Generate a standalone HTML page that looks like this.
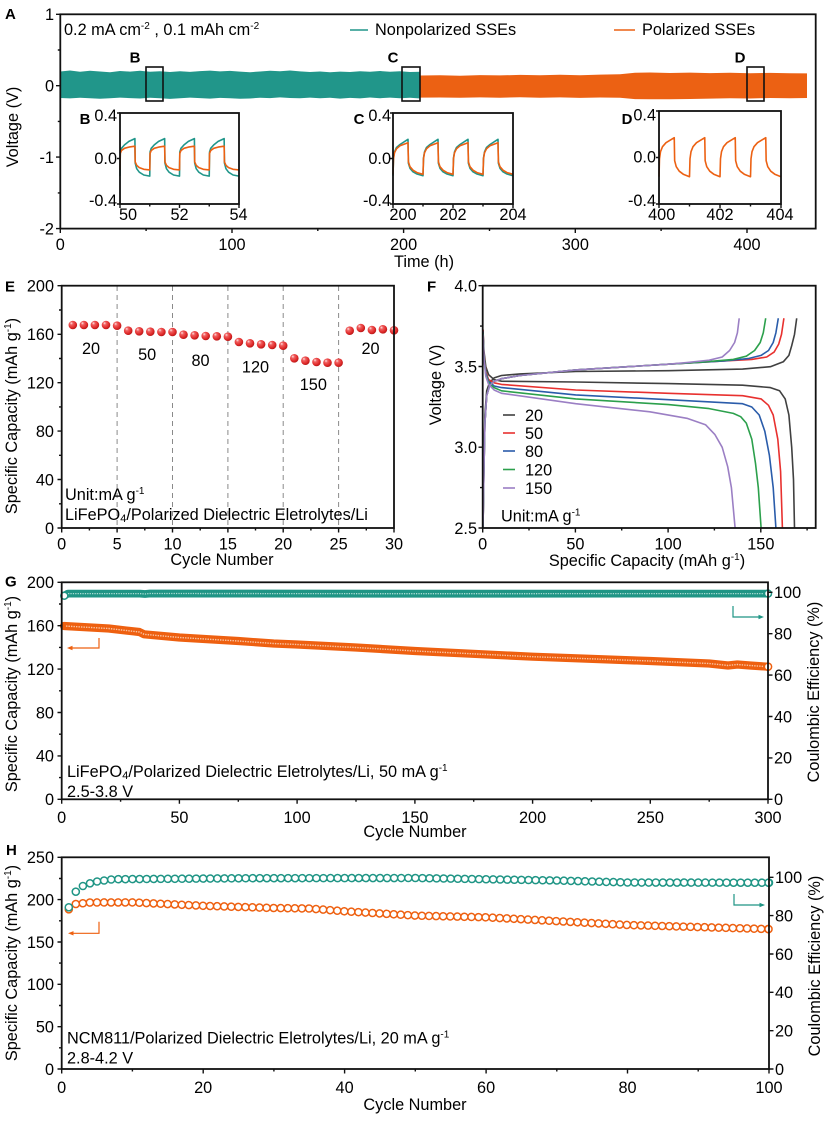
<!DOCTYPE html>
<html><head><meta charset="utf-8"><style>
html,body{margin:0;padding:0;background:#fff;}
svg{display:block;}
text{font-family:"Liberation Sans",Arial,sans-serif;font-size:16.3px;fill:#000;}
.b{font-weight:bold;font-size:15px;}
.m{text-anchor:middle;}
.e{text-anchor:end;}
</style></head><body>
<svg width="825" height="1124" viewBox="0 0 825 1124" xmlns="http://www.w3.org/2000/svg">
<defs>
<radialGradient id="rg" cx="0.4" cy="0.38" r="0.62" fx="0.32" fy="0.28"><stop offset="0" stop-color="#ffe8e8"/><stop offset="0.3" stop-color="#f06060"/><stop offset="0.75" stop-color="#e02a2a"/><stop offset="1" stop-color="#b81818"/></radialGradient>
</defs>
<rect width="825" height="1124" fill="#fff"/>

<!-- ===== Panel A ===== -->
<text class="b" x="5" y="19">A</text>
<polygon fill="#21968a" points="60.3,71.5 70,70.5 80,71.8 90,70.8 100,71.5 110,72.3 120,71 130,71.6 140,70.7 150,71.8 160,71.2 170,72 180,71.3 190,71.9 200,71.1 210,70.6 220,71.4 230,70.9 240,71.6 250,72.2 260,71.5 270,70.8 280,71.3 290,70.5 300,71.4 310,72 320,71.5 330,72.3 340,71.6 350,72 360,71.2 370,71.8 380,71 390,71.7 400,71.3 410,72 420.5,71.8 420.5,98.5 410,97.8 400,98.3 390,97.6 380,98.2 370,97.5 360,98.4 350,97.9 340,98.6 330,97.7 320,98.2 310,97.6 300,98.3 290,98 280,97.4 270,98.1 260,97.7 250,98.5 240,98.8 230,98.2 220,97.9 210,98.6 200,98.1 190,97.6 180,98.3 170,98.9 160,98.2 150,97.8 140,98.5 130,98.1 120,97.6 110,98.2 100,98.7 90,98.3 80,97.7 70,98.4 60.3,98"/>
<polygon fill="#ec6113" points="420.5,75.5 440,75.2 460,75.8 480,75.1 500,75.4 520,74.9 540,75.3 560,74.8 580,75.2 600,74.6 620,74.2 635,72.8 650,72.5 670,73 690,72.6 710,73.1 730,72.7 750,73.2 770,72.9 790,73.3 807,73.4 807,98 790,98.3 770,98 750,98.5 730,98.3 710,98.6 690,99 670,99.2 650,99.3 635,99.1 620,97.8 600,97.5 580,97.9 560,97.4 540,97.8 520,97.3 500,97.7 480,97.4 460,97.8 440,97.5 420.5,97.6"/>
<g fill="none" stroke="#111" stroke-width="1.6">
<rect x="146" y="67" width="17" height="34"/>
<rect x="402" y="67" width="18" height="34"/>
<rect x="747" y="67" width="17" height="34"/>
</g>
<text class="b m" x="135" y="62.5">B</text>
<text class="b m" x="393" y="62.5">C</text>
<text class="b m" x="740" y="62.5">D</text>

<text x="64" y="35">0.2 mA cm<tspan font-size="10" dy="-6">-2</tspan><tspan dy="6"> , 0.1 mAh cm</tspan><tspan font-size="10" dy="-6">-2</tspan></text>
<line x1="350" y1="30" x2="368" y2="30" stroke="#21968a" stroke-width="1.6"/>
<text x="375" y="35">Nonpolarized SSEs</text>
<line x1="614" y1="30" x2="635" y2="30" stroke="#ec6113" stroke-width="1.6"/>
<text x="642" y="35">Polarized SSEs</text>

<!-- inset B -->
<rect x="120" y="113" width="119" height="91" fill="#fff"/>
<path fill="none" stroke="#21968a" stroke-width="1.6" stroke-linejoin="round" d="M120,176.1 l0.3,-24.1 l1.2,-3.7 l3,-3.4 l4.4,-3.5 l6,-2.8 l0.3,24.5 l1.5,5.6 l2.6,3.5 l4.5,2.8 l5.95,1.1 l0.3,-24.1 l1.2,-3.7 l3,-3.4 l4.4,-3.5 l6,-2.8 l0.3,24.5 l1.5,5.6 l2.6,3.5 l4.5,2.8 l5.95,1.1 l0.3,-24.1 l1.2,-3.7 l3,-3.4 l4.4,-3.5 l6,-2.8 l0.3,24.5 l1.5,5.6 l2.6,3.5 l4.5,2.8 l5.95,1.1 l0.3,-24.1 l1.2,-3.7 l3,-3.4 l4.4,-3.5 l6,-2.8 l0.3,24.5 l1.5,5.6 l2.6,3.5 l4.5,2.8 l5.95,1.1"/>
<path fill="none" stroke="#ec6113" stroke-width="1.6" stroke-linejoin="round" d="M120,169.9 l0.3,-16.4 l1.2,-3 l3,-2.2 l4.4,-1.2 l6,-0.9 l0.3,15.7 l1.5,3.4 l2.6,2.3 l4.5,1.7 l5.95,0.6 l0.3,-16.4 l1.2,-3 l3,-2.2 l4.4,-1.2 l6,-0.9 l0.3,15.7 l1.5,3.4 l2.6,2.3 l4.5,1.7 l5.95,0.6 l0.3,-16.4 l1.2,-3 l3,-2.2 l4.4,-1.2 l6,-0.9 l0.3,15.7 l1.5,3.4 l2.6,2.3 l4.5,1.7 l5.95,0.6 l0.3,-16.4 l1.2,-3 l3,-2.2 l4.4,-1.2 l6,-0.9 l0.3,15.7 l1.5,3.4 l2.6,2.3 l4.5,1.7 l5.95,0.6"/>
<rect x="120" y="113" width="119" height="91" fill="none" stroke="#111" stroke-width="1.8"/>
<path stroke="#111" stroke-width="1.4" d="M117,113H120M117,158.5H120M117,204H120M120,204V208M179.5,204V208M239,204V208M149.75,204V206.5M209.25,204V206.5"/>
<text class="e" x="117" y="121">0.4</text>
<text class="e" x="117" y="164">0.0</text>
<text class="e" x="117" y="206">-0.4</text>
<text class="m" x="128" y="220">50</text>
<text class="m" x="179.5" y="220">52</text>
<text class="m" x="238.5" y="220">54</text>
<text class="b m" x="85" y="124">B</text>

<!-- inset C -->
<rect x="393" y="113" width="120" height="91" fill="#fff"/>
<path fill="none" stroke="#21968a" stroke-width="1.6" stroke-linejoin="round" d="M393,175.7 l0.5,-17.7 l1,-6 l2,-4.5 l3.5,-3 l8,-5.2 l0.4,24 l1.6,5 l3,3.5 l4,2.2 l6,1.7 l0.5,-17.7 l1,-6 l2,-4.5 l3.5,-3 l8,-5.2 l0.4,24 l1.6,5 l3,3.5 l4,2.2 l6,1.7 l0.5,-17.7 l1,-6 l2,-4.5 l3.5,-3 l8,-5.2 l0.4,24 l1.6,5 l3,3.5 l4,2.2 l6,1.7 l0.5,-17.7 l1,-6 l2,-4.5 l3.5,-3 l8,-5.2 l0.4,24 l1.6,5 l3,3.5 l4,2.2 l6,1.7"/>
<path fill="none" stroke="#ec6113" stroke-width="1.6" stroke-linejoin="round" d="M393,174.3 l0.5,-15.5 l1,-6 l2,-4 l3.5,-3 l8,-3.1 l0.4,19 l1.6,5 l3,3.5 l4,2.4 l6,1.7 l0.5,-15.5 l1,-6 l2,-4 l3.5,-3 l8,-3.1 l0.4,19 l1.6,5 l3,3.5 l4,2.4 l6,1.7 l0.5,-15.5 l1,-6 l2,-4 l3.5,-3 l8,-3.1 l0.4,19 l1.6,5 l3,3.5 l4,2.4 l6,1.7 l0.5,-15.5 l1,-6 l2,-4 l3.5,-3 l8,-3.1 l0.4,19 l1.6,5 l3,3.5 l4,2.4 l6,1.7"/>
<rect x="393" y="113" width="120" height="91" fill="none" stroke="#111" stroke-width="1.8"/>
<path stroke="#111" stroke-width="1.4" d="M390,113H393M390,158.5H393M390,204H393M393,204V208M453,204V208M513,204V208M423,204V206.5M483,204V206.5"/>
<text class="e" x="391" y="121">0.4</text>
<text class="e" x="391" y="164">0.0</text>
<text class="e" x="391" y="206">-0.4</text>
<text class="m" x="403" y="220">200</text>
<text class="m" x="453" y="220">202</text>
<text class="m" x="513" y="220">204</text>
<text class="b m" x="359" y="124">C</text>

<!-- inset D -->
<rect x="659" y="111" width="122" height="93" fill="#fff"/>
<path fill="none" stroke="#ec6113" stroke-width="1.6" stroke-linejoin="round" d="M659,176.7 l0.5,-18 l1,-7 l2,-5 l3.5,-4 l8.25,-5 l0.4,23 l1.6,6 l3,4.5 l4,3 l6.25,2.5 l0.5,-18 l1,-7 l2,-5 l3.5,-4 l8.25,-5 l0.4,23 l1.6,6 l3,4.5 l4,3 l6.25,2.5 l0.5,-18 l1,-7 l2,-5 l3.5,-4 l8.25,-5 l0.4,23 l1.6,6 l3,4.5 l4,3 l6.25,2.5 l0.5,-18 l1,-7 l2,-5 l3.5,-4 l8.25,-5 l0.4,23 l1.6,6 l3,4.5 l4,3 l6.25,2.5"/>
<rect x="659" y="111" width="122" height="93" fill="none" stroke="#111" stroke-width="1.8"/>
<path stroke="#111" stroke-width="1.4" d="M656,111H659M656,157.5H659M656,204H659M659,204V208M720,204V208M781,204V208M689.5,204V206.5M750.5,204V206.5"/>
<text class="e" x="656" y="120.5">0.4</text>
<text class="e" x="656" y="162.5">0.0</text>
<text class="e" x="656" y="206">-0.4</text>
<text class="m" x="661.7" y="220">400</text>
<text class="m" x="720" y="220">402</text>
<text class="m" x="780" y="220">404</text>
<text class="b m" x="627" y="124">D</text>

<!-- A axes -->
<rect x="60.3" y="14.3" width="755.4" height="214.3" fill="none" stroke="#111" stroke-width="1.8"/>
<path stroke="#111" stroke-width="1.4" d="M56,14.3H60.3M56,85.7H60.3M56,157.1H60.3M56,228.6H60.3M57.8,50H60.3M57.8,121.4H60.3M57.8,192.9H60.3M60.3,228.6V233M232,228.6V233M403.6,228.6V233M575.3,228.6V233M747,228.6V233M146.1,228.6V231M317.8,228.6V231M489.5,228.6V231M661.1,228.6V231"/>
<text class="e" x="54" y="20">1</text>
<text class="e" x="54" y="91.5">0</text>
<text class="e" x="54" y="163">-1</text>
<text class="e" x="54" y="234.5">-2</text>
<text class="m" x="60.3" y="250">0</text>
<text class="m" x="232" y="250">100</text>
<text class="m" x="403.6" y="250">200</text>
<text class="m" x="575.3" y="250">300</text>
<text class="m" x="747" y="250">400</text>
<text class="m" x="424" y="267">Time (h)</text>
<text class="m" transform="translate(18,127) rotate(-90)">Voltage (V)</text>

<!-- ===== Panel E ===== -->
<text class="b" x="5" y="291.7">E</text>
<path fill="none" stroke="#8a8a8a" stroke-width="1" stroke-dasharray="5 4" d="M117.1,286V528M172.5,286V528M227.9,286V528M283.2,286V528M338.6,286V528"/>
<g fill="url(#rg)">
<circle cx="72.8" cy="325" r="4.3"/><circle cx="83.9" cy="325" r="4.3"/><circle cx="94.9" cy="325" r="4.3"/><circle cx="106" cy="325" r="4.3"/><circle cx="117.1" cy="325.7" r="4.3"/>
<circle cx="128.2" cy="330.7" r="4.3"/><circle cx="139.2" cy="331.3" r="4.3"/><circle cx="150.3" cy="331.7" r="4.3"/><circle cx="161.4" cy="332" r="4.3"/><circle cx="172.5" cy="332" r="4.3"/>
<circle cx="183.5" cy="334.7" r="4.3"/><circle cx="194.6" cy="335.3" r="4.3"/><circle cx="205.7" cy="336" r="4.3"/><circle cx="216.8" cy="336.3" r="4.3"/><circle cx="227.9" cy="336.7" r="4.3"/>
<circle cx="238.9" cy="342" r="4.3"/><circle cx="250" cy="343.3" r="4.3"/><circle cx="261.1" cy="344.3" r="4.3"/><circle cx="272.2" cy="345" r="4.3"/><circle cx="283.2" cy="345.7" r="4.3"/>
<circle cx="294.3" cy="358.3" r="4.3"/><circle cx="305.4" cy="360.7" r="4.3"/><circle cx="316.5" cy="362" r="4.3"/><circle cx="327.5" cy="362.7" r="4.3"/><circle cx="338.6" cy="362.7" r="4.3"/>
<circle cx="349.7" cy="330.7" r="4.3"/><circle cx="360.8" cy="328" r="4.3"/><circle cx="371.9" cy="330" r="4.3"/><circle cx="382.9" cy="329.3" r="4.3"/><circle cx="394" cy="330.3" r="4.3"/>
</g>
<text class="m" x="91" y="354">20</text>
<text class="m" x="147.2" y="360">50</text>
<text class="m" x="200.5" y="366">80</text>
<text class="m" x="255.5" y="372.7">120</text>
<text class="m" x="313.3" y="390">150</text>
<text class="m" x="370.5" y="354">20</text>
<text x="65" y="500">Unit:mA g<tspan font-size="10" dy="-6">-1</tspan></text>
<text x="65" y="520">LiFePO<tspan font-size="11" dy="2">4</tspan><tspan dy="-2">/Polarized Dielectric Eletrolytes/Li</tspan></text>
<rect x="61.7" y="285.7" width="332.3" height="242.3" fill="none" stroke="#111" stroke-width="1.8"/>
<path stroke="#111" stroke-width="1.4" d="M57.5,528H61.7M57.5,479.5H61.7M57.5,431.1H61.7M57.5,382.7H61.7M57.5,334.3H61.7M57.5,285.7H61.7M59,503.8H61.7M59,455.3H61.7M59,406.9H61.7M59,358.5H61.7M59,310H61.7M61.7,528V532.5M117.1,528V532.5M172.5,528V532.5M227.9,528V532.5M283.2,528V532.5M338.6,528V532.5M394,528V532.5M89.4,528V530.5M144.8,528V530.5M200.2,528V530.5M255.5,528V530.5M310.9,528V530.5M366.3,528V530.5"/>
<text class="e" x="54" y="534">0</text>
<text class="e" x="54" y="485.5">40</text>
<text class="e" x="54" y="437">80</text>
<text class="e" x="54" y="388.5">120</text>
<text class="e" x="54" y="340">160</text>
<text class="e" x="54" y="291.5">200</text>
<text class="m" x="61.7" y="549.5">0</text>
<text class="m" x="117.1" y="549.5">5</text>
<text class="m" x="172.5" y="549.5">10</text>
<text class="m" x="227.9" y="549.5">15</text>
<text class="m" x="283.2" y="549.5">20</text>
<text class="m" x="338.6" y="549.5">25</text>
<text class="m" x="394" y="549.5">30</text>
<text class="m" x="222" y="565">Cycle Number</text>
<text class="m" transform="translate(17,416) rotate(-90)">Specific Capacity (mAh g<tspan font-size="10" dy="-6">-1</tspan><tspan dy="6">)</tspan></text>

<!-- ===== Panel F ===== -->
<text class="b" x="427" y="291.7">F</text>
<g fill="none" stroke-width="1.6" stroke-linejoin="round">
<path stroke="#404040" d="M483,329.6 L483.9,350.5 L485.8,366.7 L488.6,374.7 L494.1,379.6 L501.5,381.2 L575.7,382 L668.4,383.6 L742.6,385.2 L770.4,387.6 L779.6,390.8 L785.2,398.9 L788.9,415 L791.7,447.3 L793.5,479.6 L794.5,528"/>
<path stroke="#404040" d="M483,528 L483.9,463.4 L484.9,415 L486.7,390.8 L489.5,382.8 L494.1,377.9 L501.5,375.5 L520.1,373.9 L575.7,371.5 L668.4,370.7 L742.6,369.1 L770.4,366.7 L783.3,361.8 L788.9,355.4 L791.7,345.7 L794.5,334.4 L796.7,318.3"/>
<path stroke="#e8312f" d="M483,329.6 L483.9,353.7 L485.8,371.5 L488.6,379.6 L494.1,382.8 L501.5,384.4 L575.7,390 L668.4,393.3 L742.6,395.7 L761.1,398.9 L768.5,405.3 L773.2,415 L777.8,439.2 L780.6,471.5 L782.4,528"/>
<path stroke="#e8312f" d="M483,528 L483.9,471.5 L484.9,423.1 L486.7,395.7 L489.5,386 L494.1,381.2 L501.5,378.7 L520.1,375.5 L575.7,369.9 L668.4,364.2 L724,361 L751.8,359.4 L766.7,357 L774.1,352.1 L778.7,344.1 L781.5,334.4 L783.9,318.3"/>
<path stroke="#2a5caa" d="M483,331.2 L483.9,355.4 L485.8,373.1 L488.6,381.2 L494.1,386 L501.5,387.6 L575.7,394.9 L668.4,399.7 L742.6,403.7 L751.8,407 L759.2,415 L764.8,431.2 L769.4,455.4 L773.2,487.6 L775.9,528"/>
<path stroke="#2a5caa" d="M483,528 L483.9,471.5 L484.9,423.1 L486.7,395.7 L489.5,386 L494.1,381.2 L501.5,378.7 L520.1,375.5 L575.7,369.9 L668.4,364.2 L724,361 L748.1,358.6 L761.1,355.4 L768.5,350.5 L773.2,342.5 L775.9,332.8 L778.3,318.3"/>
<path stroke="#2ca04c" d="M483,332.8 L483.9,357 L485.8,374.7 L488.6,382.8 L494.1,387.6 L501.5,390.8 L575.7,398.9 L668.4,404.6 L709.2,408.6 L733.3,413.4 L740.7,416.7 L746.3,423.1 L751.8,439.2 L755.5,463.4 L758.3,487.6 L761.1,528"/>
<path stroke="#2ca04c" d="M483,528 L483.9,471.5 L484.9,423.1 L486.7,395.7 L489.5,386 L494.1,381.2 L501.5,378.7 L520.1,375.5 L575.7,369.9 L668.4,364.2 L705.5,361.8 L733.3,359.4 L746.3,356.2 L754.6,350.5 L760.2,342.5 L763.3,332.8 L765.7,318.3"/>
<path stroke="#9b7fc4" d="M483,334.4 L483.9,358.6 L485.8,376.3 L488.6,384.4 L494.1,390 L501.5,393.3 L575.7,403.7 L649.9,411.8 L686.9,418.3 L705.5,424.7 L714.8,434.4 L722.2,447.3 L727.7,466.7 L731.4,487.6 L735.1,528"/>
<path stroke="#9b7fc4" d="M483,528 L483.9,471.5 L484.9,423.1 L486.7,395.7 L489.5,386 L494.1,381.2 L501.5,378.7 L520.1,375.5 L575.7,369.9 L668.4,364.2 L686.9,362.6 L709.2,360.2 L722.2,357 L729.6,350.5 L734.6,342.5 L737.4,332.8 L739.2,318.3"/>
</g>
<g stroke-width="1.6">
<line x1="503" y1="415" x2="515" y2="415" stroke="#404040"/>
<line x1="503" y1="433" x2="515" y2="433" stroke="#e8312f"/>
<line x1="503" y1="451" x2="515" y2="451" stroke="#2a5caa"/>
<line x1="503" y1="469.5" x2="515" y2="469.5" stroke="#2ca04c"/>
<line x1="503" y1="488" x2="515" y2="488" stroke="#9b7fc4"/>
</g>
<text x="525" y="421">20</text>
<text x="525" y="439">50</text>
<text x="525" y="457">80</text>
<text x="525" y="475.5">120</text>
<text x="525" y="494">150</text>
<text x="501" y="521.5">Unit:mA g<tspan font-size="10" dy="-6">-1</tspan></text>
<rect x="482.7" y="285.7" width="333" height="242.3" fill="none" stroke="#111" stroke-width="1.8"/>
<path stroke="#111" stroke-width="1.4" d="M478.5,285.7H482.7M478.5,366.5H482.7M478.5,447.2H482.7M478.5,528H482.7M480,326.1H482.7M480,406.8H482.7M480,487.6H482.7M482.7,528V532.5M575.4,528V532.5M668.1,528V532.5M760.8,528V532.5M529,528V530.5M621.7,528V530.5M714.4,528V530.5M807.1,528V530.5"/>
<text class="e" x="477" y="291.5">4.0</text>
<text class="e" x="477" y="372.3">3.5</text>
<text class="e" x="477" y="453">3.0</text>
<text class="e" x="477" y="534">2.5</text>
<text class="m" x="482.7" y="549.5">0</text>
<text class="m" x="575.4" y="549.5">50</text>
<text class="m" x="668.1" y="549.5">100</text>
<text class="m" x="760.8" y="549.5">150</text>
<text class="m" x="647" y="566">Specific Capacity (mAh g<tspan font-size="10" dy="-6">-1</tspan><tspan dy="6">)</tspan></text>
<text class="m" transform="translate(441,385) rotate(-90)">Voltage (V)</text>

<!-- ===== Panel G ===== -->
<text class="b" x="5" y="586.7">G</text>
<path fill="none" stroke="#1f9585" stroke-width="7.8" stroke-linecap="round" stroke-linejoin="round" d="M64.5,595.5 L68,593.6 L140,593.6 L145,594 L150,593.5 L400,593.7 L768,593.6"/>
<path fill="none" stroke="#a9dcd3" stroke-width="1.3" stroke-dasharray="1.3 1.1" d="M68,593.6 L140,593.6 L145,594 L150,593.5 L400,593.7 L766,593.6"/>
<circle cx="64.3" cy="595.7" r="3.5" fill="#fff" stroke="#1f9585" stroke-width="1.5"/>
<path fill="none" stroke="#ee6010" stroke-width="8.2" stroke-linecap="round" stroke-linejoin="round" d="M64,626 L108.8,628.5 L139.4,632 L144.1,634.3 L179.4,637.5 L238.3,641 L273.6,643.5 L297.1,644.5 L356,647.5 L415,651 L532.6,656.7 L650.3,661 L709.2,663.5 L728,665.5 L737.4,664.5 L750,665.5 L768,666.7"/>
<path fill="none" stroke="#f9c4a4" stroke-width="1.4" stroke-dasharray="1.4 1.1" d="M66,626.1 L108.8,628.5 L139.4,632 L144.1,634.3 L179.4,637.5 L238.3,641 L273.6,643.5 L297.1,644.5 L356,647.5 L415,651 L532.6,656.7 L650.3,661 L709.2,663.5 L728,665.5 L737.4,664.5 L750,665.5 L765,666.5"/>
<circle cx="768" cy="666.7" r="3.6" fill="#fff" stroke="#ee6010" stroke-width="1.5"/>
<circle cx="768" cy="593.6" r="3.5" fill="#fff" stroke="#1f9585" stroke-width="1.5"/>
<path fill="none" stroke="#ee6010" stroke-width="1.2" d="M99,638V648H71"/>
<polygon fill="#ee6010" points="67,648 72.5,645.8 72.5,650.2"/>
<path fill="none" stroke="#1f9585" stroke-width="1.2" d="M733,606V617H759"/>
<polygon fill="#1f9585" points="764,617 758.5,614.8 758.5,619.2"/>
<text x="67" y="777">LiFePO<tspan font-size="11" dy="2">4</tspan><tspan dy="-2">/Polarized Dielectric Eletrolytes/Li, 50 mA g</tspan><tspan font-size="10" dy="-6">-1</tspan></text>
<text x="67" y="797">2.5-3.8 V</text>
<rect x="61.7" y="582.3" width="706.3" height="217" fill="none" stroke="#111" stroke-width="1.8"/>
<path stroke="#111" stroke-width="1.4" d="M57.5,799.3H61.7M57.5,755.9H61.7M57.5,712.5H61.7M57.5,669.1H61.7M57.5,625.7H61.7M57.5,582.3H61.7M59,777.6H61.7M59,734.2H61.7M59,690.8H61.7M59,647.4H61.7M59,604H61.7M61.7,799.3V803.8M179.4,799.3V803.8M297.1,799.3V803.8M414.9,799.3V803.8M532.6,799.3V803.8M650.3,799.3V803.8M768,799.3V803.8M120.6,799.3V801.8M238.3,799.3V801.8M356,799.3V801.8M473.7,799.3V801.8M591.4,799.3V801.8M709.2,799.3V801.8M768,799.3H772.5M768,757.9H772.5M768,716.5H772.5M768,675.1H772.5M768,633.7H772.5M768,592.3H772.5"/>
<text class="e" x="54" y="805">0</text>
<text class="e" x="54" y="761.7">40</text>
<text class="e" x="54" y="718.3">80</text>
<text class="e" x="54" y="674.9">120</text>
<text class="e" x="54" y="631.5">160</text>
<text class="e" x="54" y="588.1">200</text>
<text x="774" y="805">0</text>
<text x="774" y="763.7">20</text>
<text x="774" y="722.3">40</text>
<text x="774" y="680.9">60</text>
<text x="774" y="639.5">80</text>
<text x="774" y="598.1">100</text>
<text class="m" x="61.7" y="823">0</text>
<text class="m" x="179.4" y="823">50</text>
<text class="m" x="297.1" y="823">100</text>
<text class="m" x="414.9" y="823">150</text>
<text class="m" x="532.6" y="823">200</text>
<text class="m" x="650.3" y="823">250</text>
<text class="m" x="768" y="823">300</text>
<text class="m" x="415" y="837">Cycle Number</text>
<text class="m" transform="translate(17,694) rotate(-90)">Specific Capacity (mAh g<tspan font-size="10" dy="-6">-1</tspan><tspan dy="6">)</tspan></text>
<text class="m" transform="translate(819,692) rotate(-90)">Coulombic Efficiency (%)</text>

<!-- ===== Panel H ===== -->
<text class="b" x="6" y="855">H</text>
<path fill="none" stroke="#ee6010" stroke-width="8.6" stroke-linecap="round" stroke-dasharray="0.01 7.063" d="M75.8,904 L90,902.5 L132.4,902.4 L203.2,905.8 L273.9,908 L309.3,908.5 L344.6,911.3 L415.3,915.6 L486.1,917.3 L627.5,925 L769,929.1"/>
<path fill="none" stroke="#fff" stroke-width="5.6" stroke-linecap="round" stroke-dasharray="0.01 7.063" d="M75.8,904 L90,902.5 L132.4,902.4 L203.2,905.8 L273.9,908 L309.3,908.5 L344.6,911.3 L415.3,915.6 L486.1,917.3 L627.5,925 L769,929.1"/>
<circle cx="68.8" cy="909.3" r="3.55" fill="#fff" stroke="#ee6010" stroke-width="1.5"/>
<circle cx="768.5" cy="929.1" r="3.55" fill="#fff" stroke="#ee6010" stroke-width="1.5"/>
<path fill="none" stroke="#1f9585" stroke-width="8.6" stroke-linecap="round" stroke-dasharray="0.01 7.063" d="M118.3,879.2 L252.7,878.2 L415.3,878 L556.8,880.5 L627.5,882.5 L769,882.7"/>
<path fill="none" stroke="#fff" stroke-width="5.6" stroke-linecap="round" stroke-dasharray="0.01 7.063" d="M118.3,879.2 L252.7,878.2 L415.3,878 L556.8,880.5 L627.5,882.5 L769,882.7"/>
<g fill="#fff" stroke="#1f9585" stroke-width="1.5">
<circle cx="68.8" cy="907.3" r="3.55"/><circle cx="75.8" cy="891.7" r="3.55"/><circle cx="82.9" cy="886" r="3.55"/><circle cx="90" cy="883.3" r="3.55"/><circle cx="97.1" cy="881.5" r="3.55"/><circle cx="104.1" cy="880.5" r="3.55"/><circle cx="111.2" cy="879.5" r="3.55"/><circle cx="768.5" cy="882.7" r="3.55"/>
</g>
<path fill="none" stroke="#ee6010" stroke-width="1.2" d="M99,921.7V933.3H72"/>
<polygon fill="#ee6010" points="68,933.3 73.5,931.1 73.5,935.5"/>
<path fill="none" stroke="#1f9585" stroke-width="1.2" d="M734,894V905H760"/>
<polygon fill="#1f9585" points="765,905 759.5,902.8 759.5,907.2"/>
<text x="67" y="1043.5">NCM811/Polarized Dielectric Eletrolytes/Li, 20 mA g<tspan font-size="10" dy="-6">-1</tspan></text>
<text x="67" y="1063.5">2.8-4.2 V</text>
<rect x="61.7" y="857.3" width="707.3" height="211.7" fill="none" stroke="#111" stroke-width="1.8"/>
<path stroke="#111" stroke-width="1.4" d="M57.5,1069H61.7M57.5,1026.7H61.7M57.5,984.3H61.7M57.5,942H61.7M57.5,899.6H61.7M57.5,857.3H61.7M59,1047.8H61.7M59,1005.5H61.7M59,963.1H61.7M59,920.8H61.7M59,878.5H61.7M61.7,1069V1073.5M203.2,1069V1073.5M344.6,1069V1073.5M486.1,1069V1073.5M627.5,1069V1073.5M769,1069V1073.5M132.4,1069V1071.5M273.9,1069V1071.5M415.3,1069V1071.5M556.8,1069V1071.5M698.2,1069V1071.5M769,1069H773.5M769,1030.7H773.5M769,992.3H773.5M769,954H773.5M769,915.6H773.5M769,877.3H773.5"/>
<text class="e" x="54" y="1074.8">0</text>
<text class="e" x="54" y="1032.5">50</text>
<text class="e" x="54" y="990.1">100</text>
<text class="e" x="54" y="947.8">150</text>
<text class="e" x="54" y="905.4">200</text>
<text class="e" x="54" y="863.1">250</text>
<text x="775" y="1074.8">0</text>
<text x="775" y="1036.5">20</text>
<text x="775" y="998.1">40</text>
<text x="775" y="959.8">60</text>
<text x="775" y="921.4">80</text>
<text x="775" y="883.1">100</text>
<text class="m" x="61.7" y="1093">0</text>
<text class="m" x="203.2" y="1093">20</text>
<text class="m" x="344.6" y="1093">40</text>
<text class="m" x="486.1" y="1093">60</text>
<text class="m" x="627.5" y="1093">80</text>
<text class="m" x="769" y="1093">100</text>
<text class="m" x="415" y="1110">Cycle Number</text>
<text class="m" transform="translate(17,963) rotate(-90)">Specific Capacity (mAh g<tspan font-size="10" dy="-6">-1</tspan><tspan dy="6">)</tspan></text>
<text class="m" transform="translate(820,966) rotate(-90)">Coulombic Efficiency (%)</text>
</svg>
</body></html>
